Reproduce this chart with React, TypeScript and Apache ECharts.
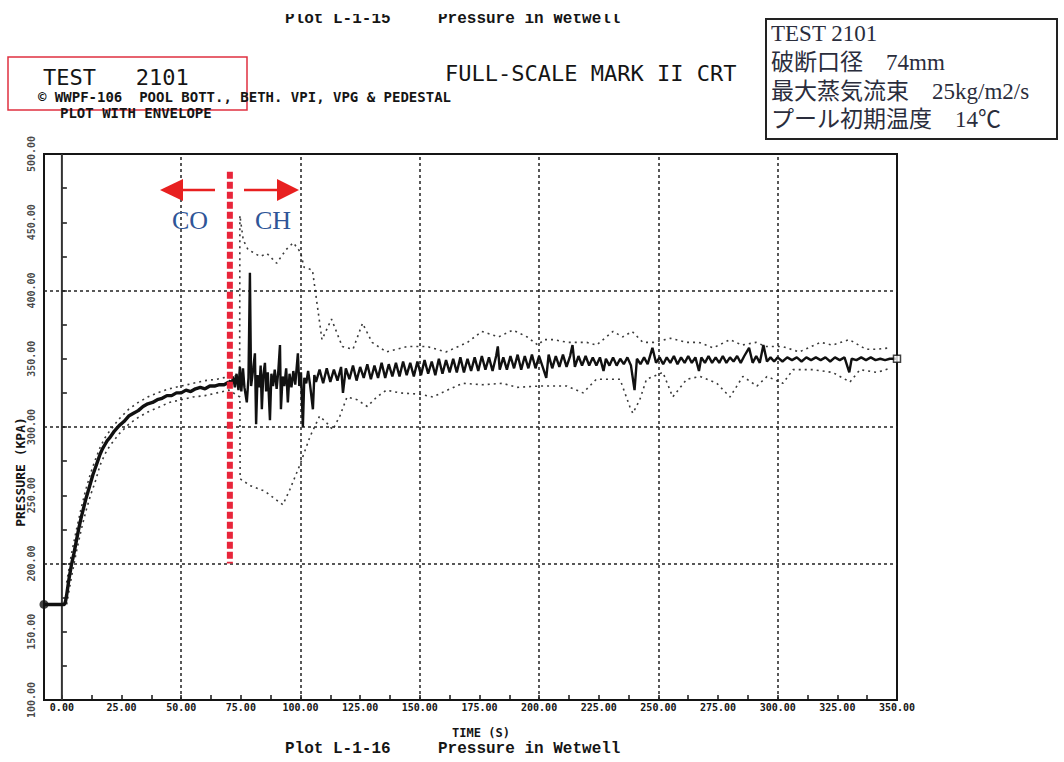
import React, { useEffect, useRef } from "react";
import * as echarts from "echarts";

// ---- axis values ----
const xLabelValues = [0, 25, 50, 75, 100, 125, 150, 175, 200, 225, 250, 275, 300, 325, 350];
const xTickValues = [0, 12.5, 25, 37.5, 50, 62.5, 75, 87.5, 100, 112.5, 125, 137.5, 150, 162.5, 175, 187.5, 200, 212.5, 225, 237.5, 250, 262.5, 275, 287.5, 300, 312.5, 325, 337.5, 350];
const yLabelValues = [100, 150, 200, 250, 300, 350, 400, 450, 500];
const yTickValues = [100, 125, 150, 175, 200, 225, 250, 275, 300, 325, 350, 375, 400, 425, 450, 475, 500];
const xGridValues = [50, 100, 150, 200, 250, 300];
const yGridValues = [200, 300, 400];
const X_MIN = -7.5;

// ---- pressure trace (s, kPa) ----
const baseline: [number, number][] = [[-7.5, 170], [1, 170]];
const riseCurve: [number, number][] = [
  [1, 170], [1.5, 172], [2, 177], [3, 189], [4, 199], [5, 207], [6, 216], [7, 225], [8, 233], [9, 240], [10, 247],
  [11, 253], [12, 259], [13, 265], [14, 270], [15, 275], [16, 280], [17, 284], [18, 287], [19, 290], [20, 292],
  [22, 297], [24, 301], [26, 304], [28, 308], [30, 310], [32, 312], [34, 315], [36, 317], [38, 318], [40, 320],
  [42, 321], [44, 323], [46, 323], [48, 325], [50, 325], [52, 327], [54, 326], [56, 328], [58, 329], [60, 328],
  [62, 330], [64, 330], [66, 331], [68, 331], [70, 333],
];
const chugging: [number, number][] = [
  [70, 333], [70.5, 334], [71, 331], [71.8, 337], [72.5, 329], [73.2, 339], [74, 327], [74.6, 344], [75.2, 326], [75.9, 343], [76.5, 329],
  [77.5, 318], [78.2, 336], [78.8, 413], [79.3, 330], [80, 340], [80.9, 354], [81.4, 302], [82, 338], [82.8, 329], [83.3, 345],
  [83.8, 313], [84.4, 338], [85.1, 347], [85.6, 326], [86.3, 340], [87.2, 305], [87.8, 339], [88.5, 330], [89.2, 342], [90, 328],
  [90.7, 341], [91.4, 360], [91.8, 313], [92.5, 337], [93.2, 330], [94, 343], [94.7, 318], [95.4, 339], [96.2, 329], [97, 341],
  [97.8, 331], [98.9, 354], [99.5, 330], [100.2, 340], [101, 300], [101.6, 336], [102.4, 332], [103.2, 341], [104, 331], [105.2, 313],
  [105.8, 338],
];
const oscillation: [number, number][] = [
  [106.5, 333], [108, 342], [109.5, 332], [111, 343], [112.5, 333], [114, 342], [115.5, 334], [117, 344], [117.8, 325], [119, 343],
  [120.5, 335], [122, 345], [123.5, 334], [125, 344], [126.5, 336], [128, 346], [129.5, 335], [131, 345], [132.5, 336], [134, 347],
  [135.5, 336], [137, 346], [138.5, 337], [140, 347], [141.5, 337], [143, 348], [144.5, 338], [146, 347], [147.5, 337], [149, 348],
  [150.5, 338], [152, 349], [153.5, 339], [155, 348], [156.5, 338], [158, 350], [159.5, 339], [161, 349], [162.5, 340], [164, 350],
  [165.5, 340], [167, 351], [168.5, 340], [170, 350], [171.5, 341], [173, 351], [174.5, 341], [176, 352], [177.5, 342], [179, 351],
  [180.5, 341], [182, 352], [182.7, 359], [183.5, 342], [185, 351], [186.5, 342], [188, 352], [189.5, 343], [191, 353], [192.5, 342],
  [194, 352], [195.5, 343], [197, 353], [198.5, 343], [200, 352], [201.5, 344], [203, 336], [204, 353], [205.5, 343], [207, 352],
  [208.5, 344], [210, 353], [211.5, 344], [213, 352], [214, 360], [215, 344], [216.5, 352], [218, 345], [219.5, 352], [221, 345],
  [222.5, 351], [224, 345], [225.5, 351], [227, 341], [228, 350], [229.5, 345], [231, 351], [232.5, 345], [234, 350], [235.5, 346],
  [237, 351], [238.5, 345], [240, 327], [241, 350], [242.5, 346], [244, 351], [245.5, 346], [247.5, 358], [249, 347],
];
const lateSegment: [number, number][] = [
  [250.5, 351], [252, 346], [253.5, 351], [255, 347], [256.5, 352], [258, 346], [259.5, 351], [261, 347], [262.5, 352], [264, 347],
  [265.5, 351], [267, 341], [268, 351], [269.5, 347], [271, 352], [272.5, 347], [274, 351], [275.5, 347], [277, 352], [278.5, 347],
  [280, 351], [281.5, 348], [283, 352], [284.5, 347], [286, 352], [288, 358], [289.5, 347], [291, 352], [292.5, 347], [294, 360],
  [295.5, 348], [297, 351], [298.5, 348], [300, 351], [302, 348], [304, 351], [306, 349], [308, 351], [310, 348], [312, 351],
  [314, 349], [316, 351], [318, 349], [320, 351], [322, 348], [324, 351], [326, 349], [328, 351], [330, 340], [331, 350],
  [333, 349], [335, 351], [337, 349], [339, 351], [341, 349], [343, 350], [345, 349], [347, 350], [350, 350],
];

// ---- envelopes ----
const upperEnvelope: [number, number][] = [
  [2, 186], [4, 207], [6, 224], [8, 240], [10, 254], [12, 266], [14, 276], [16, 285], [18, 292], [20, 297],
  [24, 306], [28, 313], [32, 318], [36, 322], [40, 325], [45, 328], [50, 330], [55, 332], [60, 334], [65, 335],
  [70, 337], [74.5, 338], [74.6, 455], [76, 437], [78, 430], [80, 428], [83, 425], [86, 427], [90, 420], [94, 430],
  [97, 435], [100, 428], [101.5, 417], [105, 415], [106.5, 396], [109, 364], [113, 379], [117.5, 359], [122, 357], [126, 376],
  [130, 362], [136, 355], [145, 359], [153, 359], [161, 355], [170, 362], [176, 370], [183, 366], [189, 371], [195, 366],
  [199.5, 360], [202, 364], [206, 364], [212, 362], [220, 362], [224, 360], [231, 370], [235, 366], [239, 370], [243.5, 362],
  [248, 362], [255, 365], [262, 362], [267, 362], [273, 358], [280, 364], [285, 360], [291, 362], [295, 359], [302, 359],
  [309, 355], [318, 362], [323, 360], [330, 364], [337, 357], [342, 357], [347, 358],
];
const lowerEnvelope: [number, number][] = [
  [2, 170], [4, 190], [6, 208], [8, 224], [10, 238], [12, 250], [14, 260], [16, 272], [18, 280], [20, 286],
  [24, 295], [28, 302], [32, 307], [36, 311], [40, 314], [45, 318], [50, 320], [55, 322], [60, 323], [65, 325],
  [70, 327], [74.6, 322], [74.7, 262], [79, 257], [85, 253], [92.6, 243], [95.5, 254], [99.7, 272], [104, 293], [108, 308],
  [111, 303], [113.5, 298], [116.5, 308], [119.5, 322], [123.7, 320], [128, 315], [132, 322], [136, 327], [141.7, 325], [150, 324],
  [155.5, 322], [161.5, 327], [168, 332], [176.4, 331], [184.8, 332], [190.7, 329], [200, 330], [211.6, 330], [218.4, 325], [224, 335],
  [233.9, 335], [238, 315], [239.3, 310], [242.2, 320], [245, 335], [251.9, 340], [256, 322], [261.9, 335], [267.4, 337], [274.5, 332],
  [280, 322], [285.4, 337], [291.3, 330], [295.5, 337], [302.2, 332], [306.4, 342], [314.8, 342], [323, 340], [330.3, 333], [334.5, 342],
  [341.6, 340], [347, 343],
];

const penLine: [number, number][] = [[0, 100], [0, 500]];
const startMarker: [number, number][] = [[-7.5, 170]];
const endMarker: [number, number][] = [[350, 350]];
const redDivider: [number, number][] = [[70.4, 487], [70.4, 200]];

const MONO = "'DejaVu Sans Mono', monospace";
const TYPE = "'Liberation Mono', monospace";
const SERIF_JP = "'Liberation Serif', 'Noto Sans CJK JP', serif";

const earlyTrace = [...baseline, ...riseCurve];
const laterTrace = [...chugging, ...oscillation, ...lateSegment];
const yLabelAnchors = yLabelValues.map((v) => [X_MIN, v]);

function buildOption(): any {
  const txt = (x: number, y: number, text: string, font: string, fill = "#151515", extra: any = {}) => ({
    type: "text",
    x,
    y,
    z: 50,
    ...extra,
    style: { text, font, fill, align: "left", verticalAlign: "middle", ...(extra.style || {}) },
  });
  return {
    animation: false,
    backgroundColor: "#ffffff",
    grid: {
      left: 44,
      right: 167,
      top: 154,
      bottom: 62,
      show: true,
      borderColor: "#151515",
      borderWidth: 2,
      backgroundColor: "transparent",
    },
    xAxis: {
      type: "value",
      min: X_MIN,
      max: 350,
      axisLine: { show: false },
      splitLine: { show: false },
      axisTick: { show: true, inside: true, length: 5, customValues: xTickValues, lineStyle: { color: "#151515", width: 1.5 } },
      axisLabel: {
        customValues: xLabelValues,
        formatter: (v: number) => v.toFixed(2),
        fontFamily: MONO,
        fontWeight: "bold",
        fontSize: 10,
        color: "#151515",
        margin: 2,
      },
    },
    yAxis: {
      type: "value",
      min: 100,
      max: 500,
      interval: 25,
      axisLine: { show: false },
      splitLine: { show: false },
      axisTick: { show: true, inside: true, length: 5, customValues: yTickValues, lineStyle: { color: "#151515", width: 1.5 } },
      axisLabel: { show: false },
    },
    series: [
      {
        name: "yLabels",
        type: "scatter",
        data: yLabelAnchors,
        symbolSize: 0,
        clip: false,
        silent: true,
        itemStyle: { color: "transparent" },
        label: {
          show: true,
          position: "left",
          distance: 8,
          rotate: 90,
          align: "center",
          verticalAlign: "bottom",
          formatter: (p: any) => (p.value[1] as number).toFixed(2),
          fontFamily: MONO,
          fontWeight: "bold",
          fontSize: 10,
          color: "#151515",
        },
        labelLayout: { hideOverlap: false },
        z: 2,
      },
      {
        name: "pen",
        type: "line",
        data: penLine,
        symbol: "none",
        lineStyle: { color: "#333", width: 2 },
        z: 3,
        markLine: {
          silent: true,
          symbol: ["none", "none"],
          label: { show: false },
          lineStyle: { color: "#222", type: [3, 3], width: 1.5 },
          data: [...xGridValues.map((v) => ({ xAxis: v })), ...yGridValues.map((v) => ({ yAxis: v }))],
        },
      },
      {
        name: "upper",
        type: "line",
        data: upperEnvelope,
        symbol: "none",
        lineStyle: { color: "#3a3a3a", width: 1.6, type: [2, 4] },
        z: 4,
      },
      {
        name: "lower",
        type: "line",
        data: lowerEnvelope,
        symbol: "none",
        lineStyle: { color: "#3a3a3a", width: 1.6, type: [2, 4] },
        z: 4,
      },
      {
        name: "pressureEarly",
        type: "line",
        data: earlyTrace,
        symbol: "none",
        lineStyle: { color: "#111", width: 3.4 },
        z: 5,
      },
      {
        name: "pressure",
        type: "line",
        data: laterTrace,
        symbol: "none",
        lineStyle: { color: "#111", width: 2.4 },
        z: 5,
      },
      {
        name: "start",
        type: "scatter",
        data: startMarker,
        symbol: "circle",
        symbolSize: 9,
        clip: false,
        itemStyle: { color: "#111" },
        z: 6,
      },
      {
        name: "end",
        type: "scatter",
        data: endMarker,
        symbol: "rect",
        symbolSize: 7,
        clip: false,
        itemStyle: { color: "#fff", borderColor: "#111", borderWidth: 1.5 },
        z: 6,
      },
      {
        name: "divider",
        type: "line",
        data: redDivider,
        symbol: "none",
        lineStyle: { color: "#e8253a", width: 6, type: [7, 3] },
        z: 8,
      },
    ],
    graphic: [
      // top (cut) title
      txt(285, 19, "Plot", `bold 16px ${TYPE}`),
      txt(333, 19, "L-1-15", `bold 16px ${TYPE}`),
      txt(438, 19, "Pressure in Wetwell", `bold 16px ${TYPE}`),
      { type: "rect", z: 60, shape: { x: 0, y: 0, width: 1064, height: 14 }, style: { fill: "#fff" } },
      // red box (test id)
      { type: "rect", z: 40, shape: { x: 8, y: 57, width: 239, height: 53 }, style: { fill: "none", stroke: "#e03040", lineWidth: 1.5 } },
      txt(43, 77, "TEST   2101", `22px ${MONO}`),
      txt(38, 97, "\u00a9 WWPF-106  POOL BOTT., BETH. VPI, VPG & PEDESTAL", `bold 14px ${MONO}`),
      txt(60, 113, "PLOT WITH ENVELOPE", `bold 14px ${MONO}`),
      txt(445, 73, "FULL-SCALE MARK II CRT", `22px ${MONO}`),
      // info box
      { type: "rect", z: 40, shape: { x: 766, y: 19, width: 291, height: 120 }, style: { fill: "#fff", stroke: "#222", lineWidth: 2 } },
      txt(771, 33, "TEST 2101", `23px ${SERIF_JP}`, "#2a2d3c"),
      txt(771, 62, "破断口径\u300074mm", `23px ${SERIF_JP}`, "#2a2d3c"),
      txt(771, 91, "最大蒸気流束\u300025kg/m2/s", `23px ${SERIF_JP}`, "#2a2d3c"),
      txt(771, 119, "プール初期温度\u300014℃", `23px ${SERIF_JP}`, "#2a2d3c"),
      // axis titles
      txt(481, 733, "TIME (S)", `bold 12px ${MONO}`, "#151515", { style: { align: "center" } }),
      txt(20, 472, "PRESSURE (KPA)", `bold 13px ${MONO}`, "#151515", { rotation: Math.PI / 2, style: { align: "center" } }),
      // bottom title
      txt(285, 749, "Plot", `bold 16px ${TYPE}`),
      txt(333, 749, "L-1-16", `bold 16px ${TYPE}`),
      txt(438, 749, "Pressure in Wetwell", `bold 16px ${TYPE}`),
      // CO / CH annotation
      { type: "line", z: 45, shape: { x1: 182, y1: 190, x2: 215, y2: 190 }, style: { stroke: "#e82020", lineWidth: 2.5 } },
      { type: "polygon", z: 45, shape: { points: [[160, 190], [183, 179], [183, 201]] }, style: { fill: "#e82020" } },
      { type: "line", z: 45, shape: { x1: 244, y1: 190, x2: 278, y2: 190 }, style: { stroke: "#e82020", lineWidth: 2.5 } },
      { type: "polygon", z: 45, shape: { points: [[299, 190], [277, 179], [277, 201]] }, style: { fill: "#e82020" } },
      txt(190, 220, "CO", `26px 'Liberation Serif', serif`, "#2f5597", { style: { align: "center" } }),
      txt(273, 220, "CH", `26px 'Liberation Serif', serif`, "#2f5597", { style: { align: "center" } }),
    ],
  };
}

export default function App() {
  const ref = useRef<HTMLDivElement>(null);
  useEffect(() => {
    if (!ref.current) return;
    const chart = echarts.init(ref.current, null, { renderer: "svg" });
    chart.setOption(buildOption());
    return () => chart.dispose();
  }, []);
  return (
    <div
      ref={ref}
      style={{ position: "absolute", left: 0, top: 0, width: 1064, height: 762, background: "#fff" }}
    />
  );
}
